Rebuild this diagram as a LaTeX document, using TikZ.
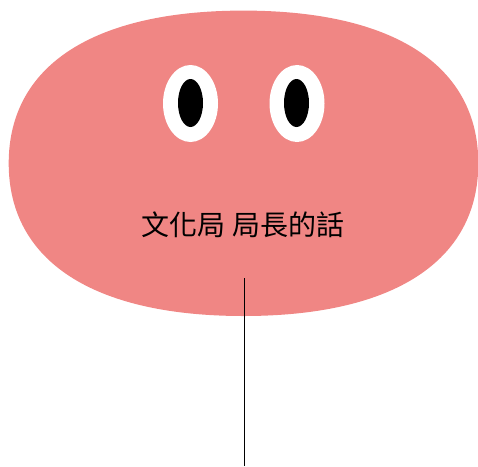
\documentclass[tikz,border=0pt]{standalone}
\usepackage{fontspec}
\newfontfamily\cjk{Noto Sans CJK TC}
\usetikzlibrary{shapes.geometric}
\definecolor{blob}{RGB}{240,134,132}
\begin{document}
\begin{tikzpicture}[x=1pt,y=-1pt,
  body/.style={fill=blob},
  eyewhite/.style={ellipse,fill=white,inner sep=0pt,minimum width=55pt,minimum height=77pt},
  pupil/.style={ellipse,fill=black,inner sep=0pt,minimum width=25pt,minimum height=48pt},
  label/.style={font=\cjk\fontsize{28}{32}\selectfont,text=black,inner sep=0pt},
  stem/.style={draw=black,line width=1pt}]
\useasboundingbox (0,0) rectangle (478,466);
\fill[body] (478.3,163.3) .. controls (478.3,65.6) and (393.8,10.6) .. (243.5,10.6)
  .. controls (93.2,10.6) and (8.7,65.6) .. (8.7,163.3)
  .. controls (8.7,261) and (93.2,316) .. (243.5,316)
  .. controls (393.8,316) and (478.3,261) .. cycle;
\node[eyewhite] (lw) at (190.5,103.5) {};
\node[eyewhite] (rw) at (297,103.5) {};
\node[pupil] (lp) at (190.5,103) {};
\node[pupil] (rp) at (296.5,103) {};
\node[label] (txt) at (243,225) {文化局 局長的話};
\coordinate (stemtop) at (244.5,278);
\coordinate (stembot) at (244.5,466);
\draw[stem] (stemtop) -- (stembot);
\end{tikzpicture}
\end{document}
